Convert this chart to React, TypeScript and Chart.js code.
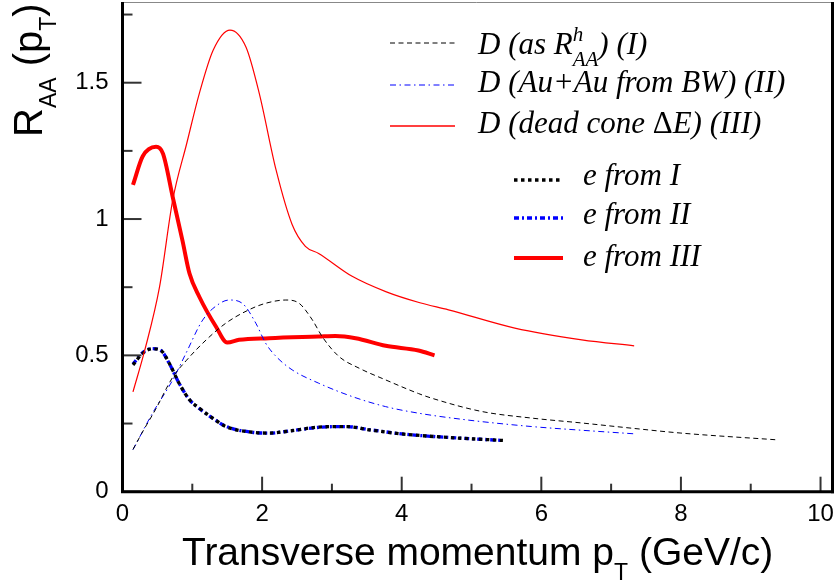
import React, { useEffect, useRef } from 'react';
import { Chart, registerables } from 'chart.js';

Chart.register(...registerables);

const W = 834;
const H = 587;

// D (as R_AA^h) (I)
const dIx = [0.15, 0.3, 0.47, 0.72, 0.91, 1.2, 1.48, 1.81, 2.05, 2.34, 2.53, 2.72, 2.86, 3.1, 3.39, 3.77, 4.24, 4.43, 5.15, 5.86, 6.58, 7.29, 8.0, 9.39];
const dIy = [0.155, 0.225, 0.3, 0.42, 0.48, 0.557, 0.618, 0.667, 0.691, 0.703, 0.691, 0.63, 0.569, 0.496, 0.453, 0.41, 0.36, 0.343, 0.294, 0.27, 0.252, 0.233, 0.215, 0.19];

// D (Au+Au from BW) (II)
const dIIx = [0.15, 0.43, 0.72, 0.91, 1.15, 1.39, 1.53, 1.72, 1.91, 2.05, 2.2, 2.43, 2.81, 3.29, 3.77, 4.24, 4.91, 5.86, 6.6, 7.35];
const dIIy = [0.154, 0.288, 0.41, 0.508, 0.63, 0.69, 0.703, 0.69, 0.618, 0.545, 0.496, 0.447, 0.398, 0.349, 0.312, 0.288, 0.264, 0.239, 0.225, 0.212];

// D (dead cone) (III)
const dIIIx = [0.15, 0.32, 0.53, 0.72, 0.92, 1.1, 1.3, 1.54, 1.77, 1.96, 2.2, 2.43, 2.62, 2.81, 3.29, 3.78, 4.26, 4.67, 5.62, 6.58, 7.33];
const dIIIy = [0.366, 0.52, 0.75, 1.07, 1.277, 1.46, 1.62, 1.693, 1.63, 1.46, 1.18, 0.98, 0.9, 0.874, 0.79, 0.733, 0.693, 0.667, 0.6, 0.557, 0.535];

// e from I
const eIx = [0.15, 0.29, 0.43, 0.55, 0.67, 0.81, 0.96, 1.1, 1.29, 1.48, 1.86, 2.1, 2.43, 2.81, 3.2, 3.53, 4.0, 4.6, 5.45];
const eIy = [0.465, 0.508, 0.524, 0.518, 0.471, 0.398, 0.337, 0.306, 0.27, 0.239, 0.218, 0.215, 0.224, 0.237, 0.239, 0.227, 0.212, 0.2, 0.188];

// e from II
const eIIx = [0.15, 0.29, 0.43, 0.55, 0.67, 0.81, 0.96, 1.1, 1.29, 1.48, 1.86, 2.1, 2.43, 2.81, 3.2, 3.53, 4.0, 4.6, 5.45];
const eIIy = [0.468, 0.51, 0.525, 0.518, 0.47, 0.398, 0.337, 0.305, 0.27, 0.24, 0.218, 0.215, 0.224, 0.236, 0.239, 0.228, 0.212, 0.2, 0.188];

// e from III
const eIIIx = [0.15, 0.29, 0.48, 0.58, 0.72, 0.86, 0.96, 1.1, 1.34, 1.5, 1.67, 2.1, 2.81, 3.05, 3.34, 3.77, 4.24, 4.47];
const eIIIy = [1.125, 1.23, 1.265, 1.24, 1.08, 0.92, 0.8, 0.715, 0.605, 0.547, 0.557, 0.563, 0.569, 0.571, 0.563, 0.535, 0.518, 0.5];

const xMajorTicks = [0, 2, 4, 6, 8, 10];
const xMinorTicks = [1, 3, 5, 7, 9];
const yMajorTicks = [0, 0.5, 1, 1.5];
const yMinorTicks = [0.25, 0.75, 1.25, 1.75];

const X_MIN = 0;
const X_MAX = 10.15;
const Y_MIN = 0;
const Y_MAX = 1.796;

const SANS = '"Liberation Sans", Arial, sans-serif';
const SERIF = '"Liberation Serif", "Times New Roman", serif';

type Seg = { text: string; size: number; dy?: number; advance?: boolean; italic?: boolean; family?: string };

function drawRich(ctx: CanvasRenderingContext2D, x: number, y: number, segs: Seg[]) {
  let cx = x;
  let held = 0;
  for (const s of segs) {
    ctx.font = `${s.italic ? 'italic ' : ''}${s.size}px ${s.family || SANS}`;
    ctx.fillText(s.text, cx, y + (s.dy || 0));
    const w = ctx.measureText(s.text).width;
    if (s.advance === false) {
      held = Math.max(held, w);
    } else {
      cx += Math.max(w, held);
      held = 0;
    }
  }
}

const pts = (xs: number[], ys: number[]) => xs.map((x, i) => ({ x, y: ys[i] }));

const zeroPad = (s: any) => {
  s.paddingTop = 0;
  s.paddingBottom = 0;
  s.paddingLeft = 0;
  s.paddingRight = 0;
};

const legendPlugin = {
  id: 'rootFrame',
  afterDraw(chart: any) {
    const ctx: CanvasRenderingContext2D = chart.ctx;
    const xs = chart.scales.x;
    const ys = chart.scales.y;
    const a = chart.chartArea;
    ctx.save();

    // frame
    ctx.strokeStyle = '#888';
    ctx.lineWidth = 1;
    ctx.beginPath();
    ctx.moveTo(a.left, a.top + 0.5);
    ctx.lineTo(a.right, a.top + 0.5);
    ctx.stroke();
    ctx.strokeStyle = '#000';
    ctx.lineWidth = 3;
    ctx.beginPath();
    ctx.moveTo(a.right + 1.5, a.top);
    ctx.lineTo(a.right + 1.5, a.bottom + 1.5);
    ctx.stroke();

    // ticks
    ctx.strokeStyle = '#333';
    ctx.lineWidth = 2;
    const tick = (x1: number, y1: number, x2: number, y2: number) => {
      ctx.beginPath();
      ctx.moveTo(x1, y1);
      ctx.lineTo(x2, y2);
      ctx.stroke();
    };
    xMajorTicks.forEach(v => { const p = xs.getPixelForValue(v); tick(p, a.bottom, p, a.bottom - 15); });
    xMinorTicks.forEach(v => { const p = xs.getPixelForValue(v); tick(p, a.bottom, p, a.bottom - 8); });
    yMajorTicks.forEach(v => { const p = ys.getPixelForValue(v); tick(a.left, p, a.left + 19, p); });
    yMinorTicks.forEach(v => { const p = ys.getPixelForValue(v); tick(a.left, p, a.left + 10, p); });

    // axes lines
    ctx.strokeStyle = '#000';
    ctx.lineWidth = 3;
    ctx.beginPath();
    ctx.moveTo(a.left, a.top);
    ctx.lineTo(a.left, a.bottom);
    ctx.lineTo(a.right + 3, a.bottom);
    ctx.stroke();

    // axis titles
    ctx.fillStyle = '#000';
    ctx.textBaseline = 'alphabetic';
    ctx.textAlign = 'left';
    drawRich(ctx, 182, 565, [
      { text: 'Transverse momentum p', size: 39 },
      { text: 'T', size: 23, dy: 15 },
      { text: ' (GeV/c)', size: 39 },
    ]);
    ctx.save();
    ctx.translate(42, 137);
    ctx.rotate(-Math.PI / 2);
    drawRich(ctx, 0, 0, [
      { text: 'R', size: 40 },
      { text: 'AA', size: 23, dy: 14 },
      { text: ' (p', size: 40 },
      { text: 'T', size: 23, dy: 14 },
      { text: ')', size: 40 },
    ]);
    ctx.restore();

    // legend
    const ds = chart.data.datasets;
    const sample = (i: number, x1: number, x2: number, y: number, w?: number) => {
      const d = ds[i];
      ctx.save();
      ctx.strokeStyle = d.borderColor;
      ctx.lineWidth = w || d.borderWidth;
      ctx.setLineDash(d.borderDash || []);
      ctx.lineCap = 'butt';
      ctx.beginPath();
      ctx.moveTo(x1, y);
      ctx.lineTo(x2, y);
      ctx.stroke();
      ctx.restore();
    };
    const L = 31;
    const S = 21;
    sample(0, 390, 455, 43);
    sample(1, 390, 455, 85);
    sample(2, 390, 455, 126, 1.6);
    sample(3, 514, 563, 180);
    sample(4, 514, 563, 218);
    sample(5, 514, 563, 258);
    ctx.fillStyle = '#000';
    drawRich(ctx, 478, 54, [
      { text: 'D (as R', size: L, italic: true, family: SERIF },
      { text: 'h', size: S, dy: -13, advance: false, italic: true, family: SERIF },
      { text: 'AA', size: S, dy: 12, italic: true, family: SERIF },
      { text: ') (I)', size: L, italic: true, family: SERIF },
    ]);
    drawRich(ctx, 478, 92, [{ text: 'D (Au+Au from BW) (II)', size: L, italic: true, family: SERIF }]);
    drawRich(ctx, 478, 133, [
      { text: 'D (dead cone ', size: L, italic: true, family: SERIF },
      { text: '\u0394', size: L, family: SERIF },
      { text: 'E) (III)', size: L, italic: true, family: SERIF },
    ]);
    drawRich(ctx, 583, 185, [{ text: 'e from I', size: L, italic: true, family: SERIF }]);
    drawRich(ctx, 583, 224, [{ text: 'e from II', size: L, italic: true, family: SERIF }]);
    drawRich(ctx, 583, 266, [{ text: 'e from III', size: L, italic: true, family: SERIF }]);

    ctx.restore();
  },
};

export default function App() {
  const ref = useRef<HTMLCanvasElement | null>(null);
  useEffect(() => {
    if (!ref.current) return;
    const common = { pointRadius: 0, fill: false, cubicInterpolationMode: 'monotone' as const, borderCapStyle: 'butt' as const };
    const chart = new Chart(ref.current, {
      type: 'line',
      data: {
        datasets: [
          { label: 'D (as R^h_AA) (I)', data: pts(dIx, dIy), borderColor: '#000', borderWidth: 1, borderDash: [5, 3.5], ...common },
          { label: 'D (Au+Au from BW) (II)', data: pts(dIIx, dIIy), borderColor: '#0000ff', borderWidth: 1, borderDash: [6, 3.5, 1.5, 3.5], ...common },
          { label: 'D (dead cone ΔE) (III)', data: pts(dIIIx, dIIIy), borderColor: '#ff0000', borderWidth: 1.2, ...common },
          { label: 'e from I', data: pts(eIx, eIy), borderColor: '#000', borderWidth: 3.3, borderDash: [3.5, 3.5], ...common },
          { label: 'e from II', data: pts(eIIx, eIIy), borderColor: '#0000ff', borderWidth: 3.3, borderDash: [5, 3, 2, 3], ...common },
          { label: 'e from III', data: pts(eIIIx, eIIIy), borderColor: '#ff0000', borderWidth: 4, ...common },
        ],
      },
      options: {
        animation: false,
        responsive: false,
        layout: { padding: { left: 0, right: 3, top: 2, bottom: 0 } },
        plugins: { legend: { display: false }, tooltip: { enabled: false } },
        scales: {
          x: {
            type: 'linear',
            min: X_MIN,
            max: X_MAX,
            afterFit: (s: any) => { s.height = H - 491.7; zeroPad(s); },
            afterBuildTicks: (s: any) => { s.ticks = xMajorTicks.map(v => ({ value: v })); },
            grid: { display: false, drawTicks: false },
            border: { display: false },
            ticks: { color: '#000', font: { size: 24, family: SANS }, padding: 8, maxRotation: 0, autoSkip: false, callback: (v: any) => String(v) },
          },
          y: {
            type: 'linear',
            min: Y_MIN,
            max: Y_MAX,
            afterFit: (s: any) => { s.width = 122.5; zeroPad(s); },
            afterBuildTicks: (s: any) => { s.ticks = yMajorTicks.map(v => ({ value: v })); },
            grid: { display: false, drawTicks: false },
            border: { display: false },
            ticks: { color: '#000', font: { size: 24, family: SANS }, padding: 14, autoSkip: false, callback: (v: any) => String(v) },
          },
        },
      },
      plugins: [legendPlugin],
    });
    return () => chart.destroy();
  }, []);
  return (
    <div style={{ position: 'fixed', left: 0, top: 0, width: W, height: H, background: '#fff' }}>
      <canvas ref={ref} width={W} height={H} style={{ width: W, height: H, display: 'block' }} />
    </div>
  );
}
